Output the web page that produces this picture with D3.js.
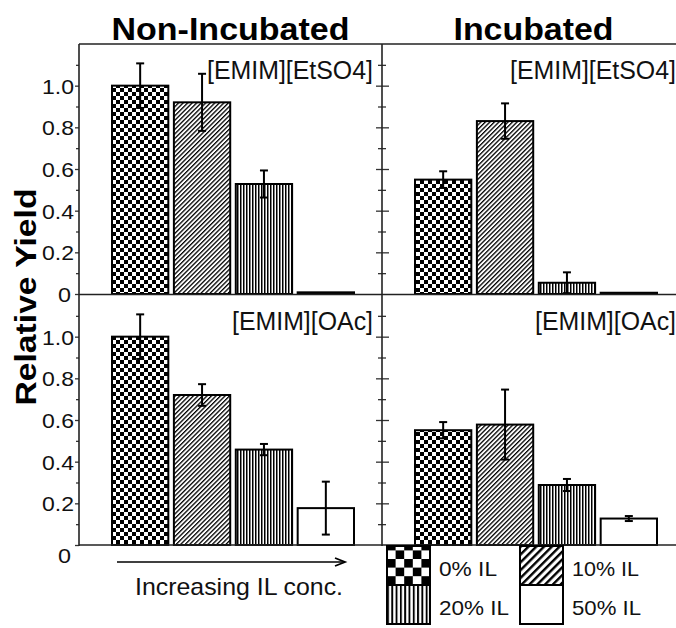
<!DOCTYPE html>
<html><head><meta charset="utf-8">
<script src="https://cdn.jsdelivr.net/npm/d3@7"></script>
<style>
html,body{margin:0;padding:0;background:#fff;}
svg{display:block;font-family:"Liberation Sans",Arial,Helvetica,sans-serif;}
</style></head>
<body>
<svg id="chart" width="676" height="628"></svg>
<script>
// ---------- data ----------
const categories = ["0% IL", "10% IL", "20% IL", "50% IL"];
const columnTitles = ["Non-Incubated", "Incubated"];
const ionicLiquids = ["[EMIM][EtSO4]", "[EMIM][OAc]"];

const nonIncEtSO4    = [1.00, 0.92, 0.528, 0.008];
const nonIncEtSO4Err = [0.107, 0.137, 0.065, 0];
const incEtSO4       = [0.549, 0.83, 0.054, 0.006];
const incEtSO4Err    = [0.04, 0.085, 0.05, 0];
const nonIncOAc      = [1.00, 0.72, 0.458, 0.177];
const nonIncOAcErr   = [0.107, 0.052, 0.027, 0.127];
const incOAc         = [0.551, 0.578, 0.288, 0.127];
const incOAcErr      = [0.039, 0.168, 0.029, 0.012];

const majorTicks = [0, 0.2, 0.4, 0.6, 0.8, 1.0];
const tickLabels = ["0", "0.2", "0.4", "0.6", "0.8", "1.0"];
const minorTicks = [0.1, 0.3, 0.5, 0.7, 0.9, 1.1];
const yMax = 1.2;

const panels = [
  {row: 0, col: 0, values: nonIncEtSO4, errs: nonIncEtSO4Err, label: ionicLiquids[0]},
  {row: 0, col: 1, values: incEtSO4,    errs: incEtSO4Err,    label: ionicLiquids[0]},
  {row: 1, col: 0, values: nonIncOAc,   errs: nonIncOAcErr,   label: ionicLiquids[1]},
  {row: 1, col: 1, values: incOAc,      errs: incOAcErr,      label: ionicLiquids[1]}
];

// ---------- layout ----------
const svg = d3.select("#chart");
const colX = [79, 382];
const panelW = 303;
const rowTop = [44, 295];
const rowZero = [294, 545];
const fills = ["url(#checker)", "url(#diag)", "url(#vert)", "#fff"];
const legendFills = ["url(#lchecker)", "url(#ldiag)", "url(#lvert)", "#fff"];

// ---------- patterns ----------
const defs = svg.append("defs");
function checker(id, c) {
  const p = defs.append("pattern").attr("id", id).attr("patternUnits", "userSpaceOnUse")
    .attr("width", 2 * c).attr("height", 2 * c);
  p.append("rect").attr("width", 2 * c).attr("height", 2 * c).attr("fill", "#fff");
  p.append("rect").attr("width", c).attr("height", c).attr("fill", "#000");
  p.append("rect").attr("x", c).attr("y", c).attr("width", c).attr("height", c).attr("fill", "#000");
}
function lines(id, period, lw, rot) {
  const p = defs.append("pattern").attr("id", id).attr("patternUnits", "userSpaceOnUse")
    .attr("width", period).attr("height", 10);
  if (rot) p.attr("patternTransform", `rotate(${rot})`);
  p.append("rect").attr("width", period).attr("height", 10).attr("fill", "#fff");
  p.append("rect").attr("width", lw).attr("height", 10).attr("fill", "#000");
}
checker("checker", 4);
lines("diag", 3.2, 1.3, 45);
lines("vert", 3, 1.5, 0);
checker("lchecker", 8.6);
lines("ldiag", 5.5, 2.4, 45);
lines("lvert", 4.3, 1.9, 0);

function stretchedText(sel, txt, len) {
  return sel.text(txt).attr("textLength", len).attr("lengthAdjust", "spacingAndGlyphs");
}

// ---------- panels ----------
panels.forEach(pn => {
  const x0 = colX[pn.col];
  const y = d3.scaleLinear().domain([0, yMax]).range([rowZero[pn.row], rowTop[pn.row]]);
  const x = d3.scaleBand().domain(categories)
    .range([x0 + 33, x0 + 33 + 242]).paddingInner(0.09).paddingOuter(0);
  const g = svg.append("g");
  const data = categories.map((c, i) => ({c, v: pn.values[i], e: pn.errs[i], i}));

  g.selectAll("rect.bar").data(data).join("rect")
    .attr("class", "bar")
    .attr("x", d => x(d.c)).attr("width", x.bandwidth())
    .attr("y", d => y(d.v)).attr("height", d => y(0) - y(d.v))
    .attr("fill", d => fills[d.i]).attr("stroke", "#000").attr("stroke-width", 2);

  const eb = data.filter(d => d.e > 0);
  g.selectAll("line.err").data(eb).join("line")
    .attr("x1", d => x(d.c) + x.bandwidth() / 2).attr("x2", d => x(d.c) + x.bandwidth() / 2)
    .attr("y1", d => y(d.v + d.e)).attr("y2", d => y(Math.max(0, d.v - d.e)))
    .attr("stroke", "#000").attr("stroke-width", 2);
  ["top", "bot"].forEach(k => {
    g.selectAll("line.cap" + k).data(eb).join("line")
      .attr("x1", d => x(d.c) + x.bandwidth() / 2 - 4).attr("x2", d => x(d.c) + x.bandwidth() / 2 + 4)
      .attr("y1", d => y(k === "top" ? d.v + d.e : Math.max(0, d.v - d.e)))
      .attr("y2", d => y(k === "top" ? d.v + d.e : Math.max(0, d.v - d.e)))
      .attr("stroke", "#000").attr("stroke-width", 2);
  });

  // panel label
  stretchedText(g.append("text")
    .attr("x", x0 + panelW - 9).attr("y", rowTop[pn.row] + 35)
    .attr("text-anchor", "end").attr("font-size", 25).attr("fill", "#111"),
    pn.label, pn.label.length > 11 ? 166 : 141);

  // axes
  if (pn.col === 0) {
    const ax = svg.append("g").attr("transform", `translate(${x0},0)`)
      .call(d3.axisLeft(y).tickValues(majorTicks).tickSize(4).tickPadding(1)
        .tickFormat((d, i) => tickLabels[i]));
    ax.select(".domain").remove();
    ax.selectAll(".tick line").attr("stroke", "#333").attr("stroke-width", 1.3);
    ax.selectAll(".tick text")
      .attr("font-size", 21).attr("fill", "#111")
      .attr("font-family", "Liberation Sans, Arial, sans-serif")
      .attr("textLength", (d, i) => tickLabels[i].length > 1 ? 32 : 13)
      .attr("lengthAdjust", "spacingAndGlyphs")
      .attr("dx", d => d === 0 ? -3 : 0)
      .attr("dy", d => (d === 0 && pn.row === 1) ? "0.82em" : "0.36em");
    const mx = svg.append("g").attr("transform", `translate(${x0},0)`)
      .call(d3.axisLeft(y).tickValues(minorTicks).tickSize(3).tickFormat(""));
    mx.select(".domain").remove();
    mx.selectAll(".tick line").attr("stroke", "#333").attr("stroke-width", 1.3);
  } else {
    const ax = svg.append("g").attr("transform", `translate(${x0},0)`)
      .call(d3.axisRight(y).tickValues(majorTicks.filter(v => v > 0)).tickSizeInner(7).tickFormat(""));
    ax.select(".domain").remove();
    ax.selectAll(".tick line").attr("x1", -6).attr("stroke", "#333").attr("stroke-width", 1.3);
    const mx = svg.append("g").attr("transform", `translate(${x0},0)`)
      .call(d3.axisRight(y).tickValues(minorTicks).tickSizeInner(4).tickFormat(""));
    mx.select(".domain").remove();
    mx.selectAll(".tick line").attr("x1", -4).attr("stroke", "#333").attr("stroke-width", 1.3);
  }
});

// frames
const frame = svg.append("g").attr("stroke", "#222").attr("stroke-width", 1.6).attr("fill", "none");
[rowTop[0], 294.5, rowZero[1]].forEach(yy =>
  frame.append("line").attr("x1", colX[0]).attr("x2", colX[1] + panelW).attr("y1", yy).attr("y2", yy));
[colX[0], colX[1], colX[1] + panelW].forEach(xx =>
  frame.append("line").attr("x1", xx).attr("x2", xx).attr("y1", rowTop[0]).attr("y2", rowZero[1] + 1));

// column titles
columnTitles.forEach((t, i) => {
  stretchedText(svg.append("text").attr("x", colX[i] + panelW / 2).attr("y", 40)
    .attr("text-anchor", "middle").attr("font-size", 31).attr("font-weight", "bold").attr("fill", "#000"),
    t, i === 0 ? 238 : 160);
});

// y title
stretchedText(svg.append("text").attr("transform", "translate(36,297) rotate(-90)")
  .attr("text-anchor", "middle").attr("font-size", 30).attr("font-weight", "bold").attr("fill", "#000"),
  "Relative Yield", 217);

// arrow + caption
svg.append("line").attr("x1", 117).attr("x2", 345).attr("y1", 562).attr("y2", 562)
  .attr("stroke", "#000").attr("stroke-width", 1.6);
svg.append("path").attr("d", "M335,558 L345,562 L335,566").attr("fill", "none")
  .attr("stroke", "#000").attr("stroke-width", 1.8);
stretchedText(svg.append("text").attr("x", 135).attr("y", 595).attr("font-size", 24).attr("fill", "#111"),
  "Increasing IL conc.", 208);

// legend
const legX = [387, 520], legY = [546, 585];
const legLens = [58, 67, 70, 69];
const lg = svg.append("g");
categories.forEach((c, i) => {
  const cx = legX[i % 2], cy = legY[Math.floor(i / 2)];
  lg.append("rect").attr("x", cx).attr("y", cy).attr("width", 43).attr("height", 39)
    .attr("fill", legendFills[i]).attr("stroke", "#000").attr("stroke-width", 2);
  stretchedText(lg.append("text").attr("x", cx + 52).attr("y", cy + 30)
    .attr("font-size", 21).attr("fill", "#111"), c, legLens[i]);
});
</script>
</body></html>
